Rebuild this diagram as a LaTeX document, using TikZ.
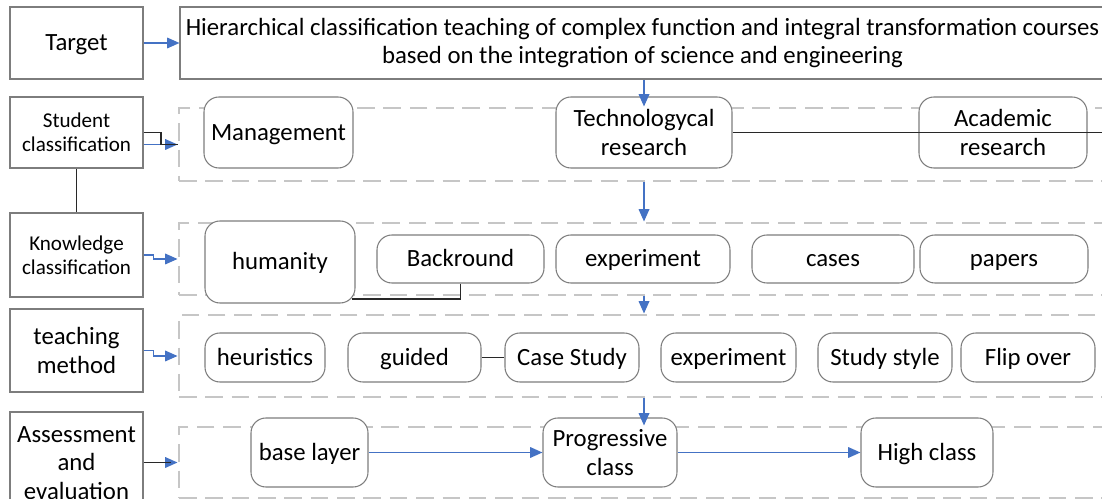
\documentclass[tikz,border=0pt]{standalone}
\usepackage{fontspec}
\setmainfont{Carlito}
\usetikzlibrary{arrows.meta,calc}
\definecolor{flowblue}{RGB}{68,114,196}
\definecolor{frame}{RGB}{125,125,125}
\definecolor{lane}{RGB}{198,198,198}
\definecolor{ink}{RGB}{40,40,40}

\begin{document}
\begin{tikzpicture}[x=0.02cm,y=-0.02cm,
  every node/.style={font=\fontsize{14.1}{16}\selectfont, align=center, inner sep=0pt},
  area/.style n args={4}{minimum width={(#3-#1)*0.02cm}, minimum height={(#4-#2)*0.02cm},
    at={({(#1+#3)/2},{(#2+#4)/2})}},
  oneline/.style={text height=9.6pt, text depth=1pt},
  labelbox/.style={draw=frame, line width=0.6pt, fill=white},
  itembox/.style={draw=frame, line width=0.6pt, fill=white, rounded corners=8.5pt},
  lanebox/.style={draw=lane, line width=1.7pt, dash pattern=on 10pt off 5pt},
  flow/.style={draw=flowblue, line width=0.9pt, -{Triangle[length=7pt,width=6pt]}},
  link/.style={draw=ink, line width=0.7pt},
  small/.style={font=\fontsize{12}{13.7}\selectfont}]
\clip (0,0) rectangle (1102,499);
\fill[white] (0,0) rectangle (1102,499);

% dashed lanes
\node[lanebox, area={179}{108}{1110}{181}] (c1) {};
\node[lanebox, area={179}{223}{1110}{295}] (c2) {};
\node[lanebox, area={179}{315}{1110}{397}] (c3) {};
\node[lanebox, area={179}{427}{1110}{498}] (c4) {};

% row labels
\node[labelbox, oneline, area={10}{7}{143}{79}] (target) {Target};
\node[labelbox, area={180}{7}{1105}{79}, font=\fontsize{14.1}{15.6}\selectfont] (goal) {Hierarchical classification teaching of complex function and integral transformation courses\\based on the integration of science and engineering};
\node[labelbox, small, area={10}{97}{143}{168}] (stud) {Student\\classification};
\node[labelbox, small, area={10}{213}{143}{297}] (know) {Knowledge\\classification};
\node[labelbox, area={10}{309}{143}{392}] (teach) {teaching\\method};
\node[labelbox, area={10}{412}{143}{514}, font=\fontsize{14.1}{16.3}\selectfont] (assess) {Assessment\\and\\evaluation};

% student classes
\node[itembox, oneline, area={204}{97}{353}{168}] (mgmt) {Management};
\node[itembox, area={556}{97}{732}{168}] (tech) {Technologycal\\research};
\node[itembox, area={919}{97}{1087}{168}] (acad) {Academic\\research};

% knowledge classes
\node[itembox, oneline, area={205}{221}{355}{303}] (hum) {humanity};
\node[itembox, oneline, area={377}{235}{544}{283}] (backr) {Backround};
\node[itembox, oneline, area={556}{235}{730}{283}] (expk) {experiment};
\node[itembox, oneline, area={752}{235}{914}{283}] (cases) {cases};
\node[itembox, oneline, area={920}{235}{1088}{283}] (papers) {papers};

% teaching methods
\node[itembox, oneline, area={205}{333}{325}{382}] (heur) {heuristics};
\node[itembox, oneline, area={348}{333}{481}{382}] (guided) {guided};
\node[itembox, oneline, area={505}{333}{639}{382}] (case) {Case Study};
\node[itembox, oneline, area={661}{333}{796}{382}] (expt) {experiment};
\node[itembox, oneline, area={818}{333}{952}{382}] (style) {Study style};
\node[itembox, oneline, area={961}{333}{1095}{382}] (flip) {Flip over};

% assessment levels
\node[itembox, oneline, area={251}{418}{368}{487}] (base) {base layer};
\node[itembox, area={543}{418}{677}{487}, font=\fontsize{14.1}{16.5}\selectfont] (prog) {Progressive\\class};
\node[itembox, oneline, area={861}{418}{993}{487}] (high) {High class};

\coordinate (rightend) at (1110,132.5);
\coordinate (humcorner) at (352,299);

% connectors
\draw[flow] (target) -- (goal);
\draw[flow] (goal.south -| tech) -- (c1.north -| tech);
\draw[flow] (c1.south -| tech) -- (c2.north -| tech);
\draw[flow] (c2.south -| tech) -- (c3.north -| tech);
\draw[flow] (c3.south -| tech) -- (c4.north -| tech);

\draw[flow] (stud.east |- c1.west) -- (c1.west);
\draw[link] (stud.east) -- ++(17.5,0) |- (c1.west);
\draw[link] (stud.south) -- (know.north);
\draw[flow] (know.east) -- ++(10,0) |- (c2.west);
\draw[flow] (teach.east) -- ++(10,0) |- (c3.west);
\draw[flow] (assess.east |- c4.west) -- (c4.west);
\draw[link] (assess.east |- c4.west) -- ++(27,0);

\draw[link] (tech.east) -- (rightend);
\draw[link] (backr.south) |- (humcorner);
\draw[link] (guided) -- (case);

\draw[flow] (base) -- (prog);
\draw[flow] (prog) -- (high);
\end{tikzpicture}
\end{document}
